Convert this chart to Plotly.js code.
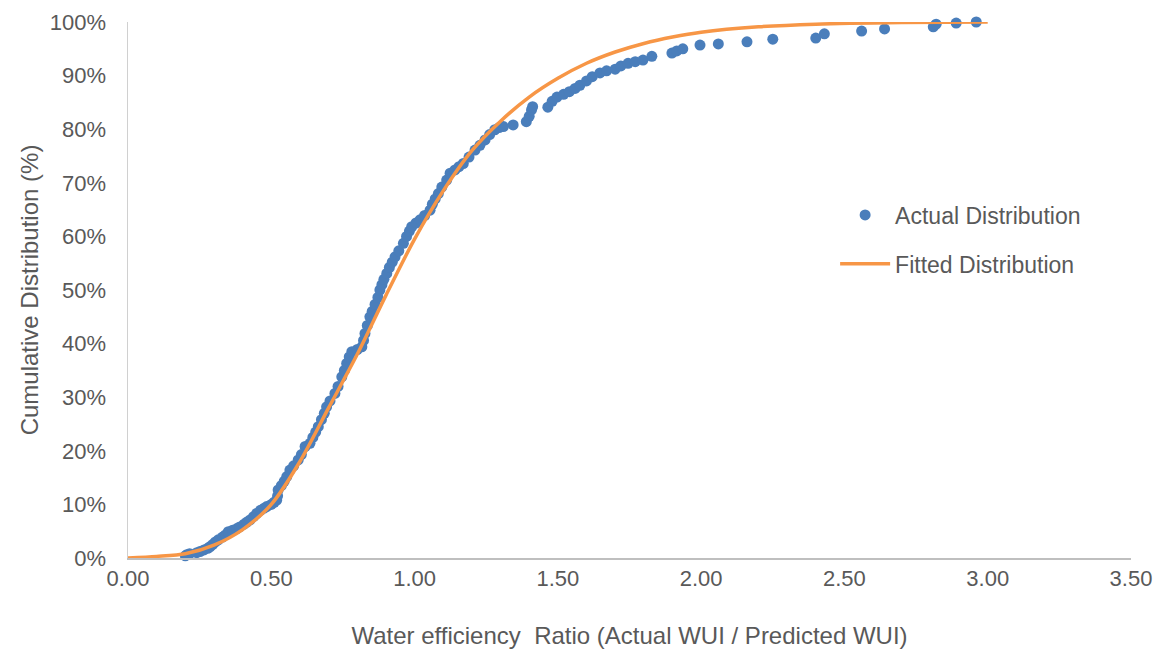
<!DOCTYPE html>
<html>
<head>
<meta charset="utf-8">
<script src="https://cdn.plot.ly/plotly-3.0.1.min.js"></script>
<style>
  html, body { margin: 0; padding: 0; background: #ffffff; }
  #chart { width: 1163px; height: 652px; }
</style>
</head>
<body>
<div id="chart"></div>
<script>
// Actual distribution (empirical CDF) — water efficiency ratio vs cumulative %
const actualRatio = [
  0.200, 0.205, 0.215, 0.240, 0.251, 0.265, 0.278, 0.286, 0.295, 0.305,
  0.315, 0.330, 0.340, 0.350, 0.365, 0.380, 0.390, 0.405, 0.415, 0.426,
  0.438, 0.449, 0.462, 0.475, 0.484, 0.500, 0.510, 0.519, 0.522, 0.524,
  0.535, 0.545, 0.554, 0.565, 0.578, 0.594, 0.605, 0.618, 0.635, 0.645,
  0.655, 0.664, 0.675, 0.685, 0.693, 0.705, 0.722, 0.733, 0.746, 0.755,
  0.763, 0.772, 0.781, 0.800, 0.816, 0.822, 0.827, 0.835, 0.844, 0.852,
  0.862, 0.872, 0.879, 0.886, 0.893, 0.903, 0.912, 0.922, 0.932, 0.945,
  0.961, 0.972, 0.982, 0.990, 1.005, 1.019, 1.035, 1.054, 1.062, 1.072,
  1.083, 1.095, 1.112, 1.124, 1.141, 1.155, 1.170, 1.190, 1.211, 1.228,
  1.246, 1.262, 1.280, 1.295, 1.310, 1.344, 1.390, 1.400, 1.408, 1.412,
  1.465, 1.480, 1.497, 1.520, 1.540, 1.560, 1.577, 1.600, 1.620, 1.647,
  1.670, 1.700, 1.720, 1.745, 1.770, 1.797, 1.828, 1.898, 1.915, 1.936,
  1.996, 2.060, 2.160, 2.250, 2.400, 2.430, 2.560, 2.640, 2.810, 2.820,
  2.890, 2.960
];
const actualCumPct = [
  0.4, 0.6, 0.8, 1.0, 1.2, 1.5, 1.8, 2.1, 2.5, 3.0,
  3.4, 3.9, 4.3, 4.9, 5.2, 5.5, 5.8, 6.3, 6.7, 7.1,
  7.7, 8.3, 8.9, 9.3, 9.6, 10.0, 10.4, 10.8, 11.6, 12.7,
  13.5, 14.3, 15.2, 16.4, 17.2, 18.3, 19.3, 20.8, 21.4, 22.5,
  23.5, 24.5, 25.8, 27.0, 28.2, 29.3, 30.7, 32.0, 33.8, 35.0,
  36.3, 37.5, 38.5, 38.9, 39.4, 40.6, 41.9, 43.4, 45.0, 46.0,
  47.3, 48.6, 50.0, 51.0, 52.0, 53.1, 54.2, 55.2, 56.2, 57.3,
  58.7, 60.0, 61.0, 61.8, 62.5, 63.1, 63.9, 64.9, 66.0, 67.0,
  68.0, 69.2, 70.5, 71.8, 72.4, 73.0, 73.6, 74.8, 76.1, 77.0,
  78.0, 79.0, 79.9, 80.3, 80.5, 80.8, 81.4, 82.4, 83.6, 84.2,
  84.1, 85.2, 86.0, 86.5, 87.0, 87.6, 88.2, 89.0, 89.8, 90.5,
  90.9, 91.2, 91.8, 92.3, 92.6, 92.9, 93.6, 94.2, 94.6, 95.0,
  95.7, 95.9, 96.3, 96.8, 97.0, 97.8, 98.3, 98.7, 99.1, 99.6,
  99.8, 100.0
];

// Fitted distribution
const fittedRatio = [0.00, 0.10, 0.20, 0.30, 0.40, 0.50, 0.60, 0.70, 0.80, 0.90,
  1.00, 1.10, 1.20, 1.30, 1.40, 1.50, 1.60, 1.70, 1.80, 1.90, 2.00, 2.20, 2.40, 2.70, 3.00];
const fittedCumPct = [0.0, 0.3, 0.8, 2.4, 5.3, 10.0, 18.0, 28.0, 38.0, 49.0,
  59.5, 68.5, 76.0, 81.5, 86.0, 89.5, 92.3, 94.4, 96.0, 97.2, 98.1, 99.1, 99.6, 99.9, 100.0];

const xTickVals = [0, 0.5, 1, 1.5, 2, 2.5, 3, 3.5];
const xTickText = ["0.00", "0.50", "1.00", "1.50", "2.00", "2.50", "3.00", "3.50"];
const yTickVals = [0, 10, 20, 30, 40, 50, 60, 70, 80, 90, 100];
const yTickText = ["0%", "10%", "20%", "30%", "40%", "50%", "60%", "70%", "80%", "90%", "100%"];

const seriesNames = ["Actual Distribution", "Fitted Distribution"];

const FONT = "'Liberation Sans', Arial, sans-serif";
const TXT = "#595959";

const traces = [
  {
    x: actualRatio, y: actualCumPct,
    type: "scatter", mode: "markers",
    name: seriesNames[0], legendgroup: "a",
    marker: { color: "#4A7EBB", size: 11 },
    cliponaxis: false
  },
  {
    x: fittedRatio, y: fittedCumPct,
    type: "scatter", mode: "lines",
    name: seriesNames[1], legendgroup: "b",
    line: { color: "#F79646", width: 3.5, shape: "spline", smoothing: 0.8 },
    cliponaxis: false
  }
];

const layout = {
  width: 1163, height: 652,
  paper_bgcolor: "#ffffff", plot_bgcolor: "#ffffff",
  margin: { l: 128, r: 32, t: 22, b: 94 },
  font: { family: FONT, color: TXT, size: 22 },
  showlegend: true,
  legend: {
    x: 0.705, y: 0.68, xanchor: "left", yanchor: "top",
    font: { family: FONT, size: 23, color: TXT },
    bgcolor: "rgba(0,0,0,0)",
    itemwidth: 50,
    traceorder: "grouped", tracegroupgap: 16
  },
  xaxis: {
    range: [0, 3.5],
    tickvals: xTickVals, ticktext: xTickText,
    showgrid: false, zeroline: false,
    showline: true, linecolor: "#BFBFBF", linewidth: 2,
    ticks: "",
    tickfont: { family: FONT, size: 22, color: TXT },
    title: { text: "Water efficiency  Ratio (Actual WUI / Predicted WUI)", font: { family: FONT, size: 24, color: TXT }, standoff: 37 }
  },
  yaxis: {
    range: [0, 100],
    tickvals: yTickVals, ticktext: yTickText,
    showgrid: false, zeroline: false,
    showline: true, linecolor: "#D0D0D0", linewidth: 1.5,
    ticks: "", ticklabelstandoff: 16,
    tickfont: { family: FONT, size: 22, color: TXT },
    title: { text: "Cumulative Distribution (%)", font: { family: FONT, size: 24, color: TXT }, standoff: 4 }
  }
};

Plotly.newPlot("chart", traces, layout, { displayModeBar: false, staticPlot: true });
</script>
</body>
</html>
